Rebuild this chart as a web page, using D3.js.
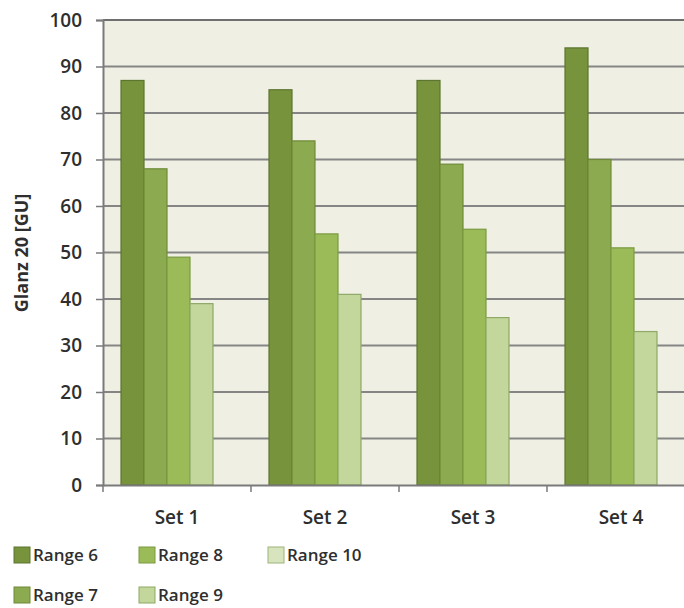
<!DOCTYPE html>
<html>
<head>
<meta charset="utf-8">
<script src="https://cdn.jsdelivr.net/npm/d3@7"></script>
<style>
  html, body { margin: 0; padding: 0; background: #fff; }
  svg { display: block; }
  text { font-family: "Open Sans", "Liberation Sans", sans-serif; fill: #2e2e2e; }
</style>
</head>
<body>
<svg id="chart" width="684" height="608"></svg>
<script>
// Gloss readings per set and range
const sets = ["Set 1", "Set 2", "Set 3", "Set 4"];
const ranges = ["Range 6", "Range 7", "Range 8", "Range 9", "Range 10"];
const range6 = [87, 85, 87, 94];
const range7 = [68, 74, 69, 70];
const range8 = [49, 54, 55, 51];
const range9 = [39, 41, 36, 33];
const range10 = [0, 0, 0, 0];
const yTicks = [0, 10, 20, 30, 40, 50, 60, 70, 80, 90, 100];
const colors = ["#77933c", "#8caa4f", "#9bbb59", "#c3d69b", "#d7e4bd"];
const strokes = ["#5d7530", "#6e8a38", "#7a9a40", "#8ea865", "#9db47a"];

const series = [range6, range7, range8, range9, range10];

const svg = d3.select("#chart");
const plotL = 103, plotR = 695, plotT = 20, plotB = 485;

const y = d3.scaleLinear().domain([0, 100]).range([plotB, plotT]);
const x0 = d3.scaleBand().domain(sets).range([plotL, plotR]).padding(0);
const bw = x0.bandwidth();
const x1 = d3.scaleBand().domain(ranges).range([18, bw - 15]).padding(0);

// plot area
svg.append("rect")
  .attr("x", plotL).attr("y", plotT)
  .attr("width", plotR - plotL).attr("height", plotB - plotT)
  .attr("fill", "#eff0e3");

// horizontal gridlines
svg.append("g")
  .selectAll("line")
  .data(yTicks.filter(d => d > 0))
  .join("line")
  .attr("x1", plotL).attr("x2", plotR)
  .attr("y1", d => y(d)).attr("y2", d => y(d))
  .attr("stroke", d => d === 100 ? "#6f6f6f" : "#858585")
  .attr("stroke-width", 2);

// bars
const groups = svg.append("g")
  .selectAll("g")
  .data(sets)
  .join("g")
  .attr("transform", d => `translate(${x0(d)},0)`);

groups.selectAll("rect")
  .data((s, i) => ranges.map((r, j) => ({ r, j, v: series[j][i] })).filter(d => d.v > 0))
  .join("rect")
  .attr("x", d => x1(d.r))
  .attr("y", d => y(d.v))
  .attr("width", x1.bandwidth())
  .attr("height", d => y(0) - y(d.v))
  .attr("fill", d => colors[d.j])
  .attr("stroke", d => strokes[d.j])
  .attr("stroke-width", 1.2);

// y axis
const yAxis = d3.axisLeft(y).tickValues(yTicks).tickSize(7).tickPadding(14);
const gy = svg.append("g").attr("transform", `translate(${plotL},0)`).call(yAxis);
gy.select(".domain").attr("stroke", "#7a7a7a").attr("stroke-width", 2);
gy.selectAll(".tick line").attr("stroke", "#7a7a7a").attr("stroke-width", 1.5);
gy.selectAll(".tick text")
  .attr("font-size", 19).attr("font-weight", 600).attr("fill", "#2e2e2e")
  .attr("font-family", "\"Open Sans\", sans-serif");

// x axis
const xAxis = d3.axisBottom(x0).tickSize(0).tickPadding(26);
const gx = svg.append("g").attr("transform", `translate(0,${plotB})`).call(xAxis);
gx.select(".domain").attr("stroke", "#7a7a7a").attr("stroke-width", 2);
gx.selectAll(".tick text")
  .attr("font-size", 19).attr("font-weight", 600).attr("fill", "#2e2e2e")
  .attr("font-family", "\"Open Sans\", sans-serif");
// category separator ticks
gx.append("g")
  .selectAll("line")
  .data(sets)
  .join("line")
  .attr("x1", d => x0(d)).attr("x2", d => x0(d))
  .attr("y1", 0).attr("y2", 7)
  .attr("stroke", "#7a7a7a").attr("stroke-width", 1.5);

// y axis title
svg.append("text")
  .attr("transform", "translate(28,253) rotate(-90)")
  .attr("text-anchor", "middle")
  .attr("font-size", 18)
  .attr("font-weight", "bold")
  .text("Glanz 20 [GU]");

// legend
const legendPos = [
  [14, 555], [14, 595], [139, 555], [139, 595], [268, 555]
];
const legend = svg.append("g")
  .selectAll("g")
  .data(ranges)
  .join("g")
  .attr("transform", (d, i) => `translate(${legendPos[i][0]},${legendPos[i][1]})`);
legend.append("rect")
  .attr("x", 0).attr("y", -8)
  .attr("width", 16).attr("height", 16)
  .attr("fill", (d, i) => colors[i])
  .attr("stroke", (d, i) => strokes[i])
  .attr("stroke-width", 1);
legend.append("text")
  .attr("x", 19).attr("y", 6)
  .attr("font-size", 17)
  .attr("font-weight", 600)
  .text(d => d);
</script>
</body>
</html>
